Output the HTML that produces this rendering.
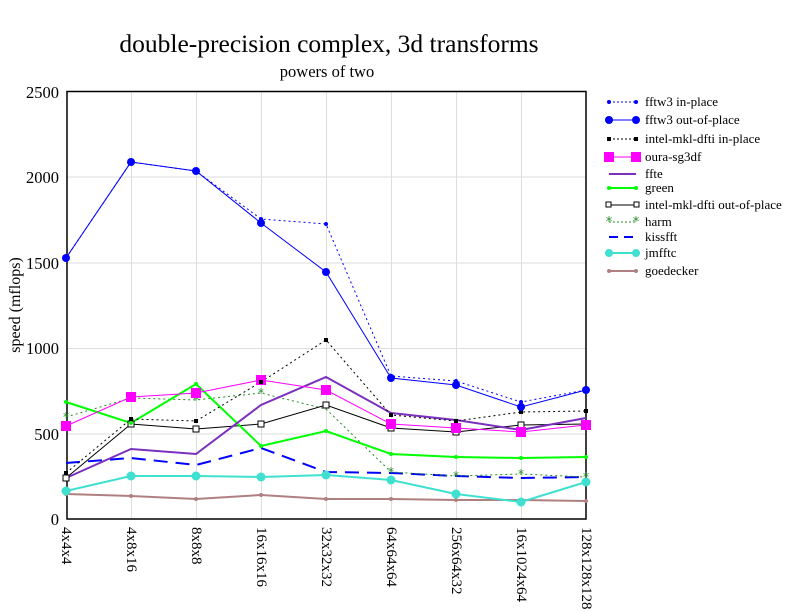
<!DOCTYPE html>
<html><head><meta charset="utf-8"><style>body{margin:0;background:#fff}svg{display:block}</style></head><body>
<svg width="792" height="612" xmlns="http://www.w3.org/2000/svg" font-family="Liberation Serif, serif">
<rect width="792" height="612" fill="#fff"/>
<g stroke="#ddd" stroke-width="1">
<line x1="131.5" y1="91" x2="131.5" y2="519"/><line x1="196.5" y1="91" x2="196.5" y2="519"/><line x1="261.5" y1="91" x2="261.5" y2="519"/><line x1="326.5" y1="91" x2="326.5" y2="519"/><line x1="391.5" y1="91" x2="391.5" y2="519"/><line x1="456.5" y1="91" x2="456.5" y2="519"/><line x1="521.5" y1="91" x2="521.5" y2="519"/>
<line x1="67" y1="434" x2="586" y2="434"/><line x1="67" y1="348.5" x2="586" y2="348.5"/><line x1="67" y1="263" x2="586" y2="263"/><line x1="67" y1="177" x2="586" y2="177"/>
</g>
<rect x="67" y="91.5" width="519" height="427.5" fill="none" stroke="#000" stroke-width="1.5"/>
<text x="329" y="52" font-size="25.5" text-anchor="middle">double-precision complex, 3d transforms</text>
<text x="327" y="77" font-size="16.5" text-anchor="middle">powers of two</text>
<g font-size="16.5" text-anchor="end">
<text x="59" y="525">0</text><text x="59" y="440">500</text><text x="59" y="354">1000</text><text x="59" y="269">1500</text><text x="59" y="183">2000</text><text x="59" y="98">2500</text>
</g>
<text transform="translate(20,305) rotate(-90)" font-size="16" text-anchor="middle">speed (mflops)</text>
<g font-size="15">
<text transform="translate(62,527) rotate(90)">4x4x4</text>
<text transform="translate(127,527) rotate(90)">4x8x16</text>
<text transform="translate(192,527) rotate(90)">8x8x8</text>
<text transform="translate(257,527) rotate(90)">16x16x16</text>
<text transform="translate(322,527) rotate(90)">32x32x32</text>
<text transform="translate(387,527) rotate(90)">64x64x64</text>
<text transform="translate(452,527) rotate(90)">256x64x32</text>
<text transform="translate(517,527) rotate(90)">16x1024x64</text>
<text transform="translate(582,527) rotate(90)">128x128x128</text>
</g>
<g fill="none">
<polyline stroke="#b08080" stroke-width="2" points="66,494 131,496 196,499 261,495 326,499 391,499 456,500 521,500 586,501"/>
<polyline stroke="#40e0d0" stroke-width="2" points="66,491 131,476 196,476 261,477 326,475 391,480 456,494 521,502 586,482"/>
<polyline stroke="#0000ff" stroke-width="2" stroke-dasharray="14,8" points="66,463 131,458 196,465 261,448 326,472 391,473 456,476 521,478 586,477"/>
<polyline stroke="#228b22" stroke-width="1" stroke-dasharray="2,3" points="66,417 131,398 196,400 261,393 326,409 391,472 456,476 521,474 586,477"/>
<polyline stroke="#000" stroke-width="1" points="66,478 131,424 196,429 261,424 326,405 391,428 456,432 521,425 586,424"/>
<polyline stroke="#00ff00" stroke-width="2" points="66,402 131,423 196,384 261,446 326,431 391,454 456,457 521,458 586,457"/>
<polyline stroke="#7b2fbe" stroke-width="2" points="66,478 131,449 196,454 261,405 326,377 391,413 456,420 521,430 586,418"/>
<polyline stroke="#ff00ff" stroke-width="1" points="66,426 131,397 196,393 261,380 326,390 391,424 456,428 521,432 586,425"/>
<polyline stroke="#000" stroke-width="1" stroke-dasharray="2,3" points="66,473 131,419 196,421 261,382 326,340 391,415 456,421 521,412 586,411"/>
<polyline stroke="#0000ff" stroke-width="1" points="66,258 131,162 196,171 261,223 326,272 391,378 456,385 521,407 586,390"/>
<polyline stroke="#0000ff" stroke-width="1" stroke-dasharray="2,3" points="66,258 131,162 196,171 261,219 326,224 391,376 456,381 521,402 586,390"/>
</g>
<g fill="#b08080"><circle cx="66" cy="494" r="2"/><circle cx="131" cy="496" r="2"/><circle cx="196" cy="499" r="2"/><circle cx="261" cy="495" r="2"/><circle cx="326" cy="499" r="2"/><circle cx="391" cy="499" r="2"/><circle cx="456" cy="500" r="2"/><circle cx="521" cy="500" r="2"/><circle cx="586" cy="501" r="2"/></g>
<g fill="#40e0d0"><circle cx="66" cy="491" r="4.5"/><circle cx="131" cy="476" r="4.5"/><circle cx="196" cy="476" r="4.5"/><circle cx="261" cy="477" r="4.5"/><circle cx="326" cy="475" r="4.5"/><circle cx="391" cy="480" r="4.5"/><circle cx="456" cy="494" r="4.5"/><circle cx="521" cy="502" r="4.5"/><circle cx="586" cy="482" r="4.5"/></g>
<g fill="#228b22" font-size="12" text-anchor="middle" font-family="DejaVu Sans"><text x="66" y="421">*</text><text x="131" y="402">*</text><text x="196" y="404">*</text><text x="261" y="397">*</text><text x="326" y="413">*</text><text x="391" y="476">*</text><text x="456" y="480">*</text><text x="521" y="478">*</text><text x="586" y="481">*</text></g>
<g fill="#fff" stroke="#000"><rect x="63" y="475" width="6" height="6"/><rect x="128" y="421" width="6" height="6"/><rect x="193" y="426" width="6" height="6"/><rect x="258" y="421" width="6" height="6"/><rect x="323" y="402" width="6" height="6"/><rect x="388" y="425" width="6" height="6"/><rect x="453" y="429" width="6" height="6"/><rect x="518" y="422" width="6" height="6"/><rect x="583" y="421" width="6" height="6"/></g>
<g fill="#00ff00"><circle cx="66" cy="402" r="2"/><circle cx="131" cy="423" r="2"/><circle cx="196" cy="384" r="2"/><circle cx="261" cy="446" r="2"/><circle cx="326" cy="431" r="2"/><circle cx="391" cy="454" r="2"/><circle cx="456" cy="457" r="2"/><circle cx="521" cy="458" r="2"/><circle cx="586" cy="457" r="2"/></g>
<g fill="#ff00ff"><rect x="61" y="421" width="10" height="10"/><rect x="126" y="392" width="10" height="10"/><rect x="191" y="388" width="10" height="10"/><rect x="256" y="375" width="10" height="10"/><rect x="321" y="385" width="10" height="10"/><rect x="386" y="419" width="10" height="10"/><rect x="451" y="423" width="10" height="10"/><rect x="516" y="427" width="10" height="10"/><rect x="581" y="420" width="10" height="10"/></g>
<g fill="#000"><rect x="64" y="471" width="4" height="4"/><rect x="129" y="417" width="4" height="4"/><rect x="194" y="419" width="4" height="4"/><rect x="259" y="380" width="4" height="4"/><rect x="324" y="338" width="4" height="4"/><rect x="389" y="413" width="4" height="4"/><rect x="454" y="419" width="4" height="4"/><rect x="519" y="410" width="4" height="4"/><rect x="584" y="409" width="4" height="4"/></g>
<g fill="#0000ff"><circle cx="66" cy="258" r="4" /><circle cx="131" cy="162" r="4"/><circle cx="196" cy="171" r="4"/><circle cx="261" cy="223" r="4"/><circle cx="326" cy="272" r="4"/><circle cx="391" cy="378" r="4"/><circle cx="456" cy="385" r="4"/><circle cx="521" cy="407" r="4"/><circle cx="586" cy="390" r="4"/>
<circle cx="261" cy="219" r="2"/><circle cx="326" cy="224" r="2"/><circle cx="391" cy="376" r="2"/><circle cx="456" cy="381" r="2"/><circle cx="521" cy="402" r="2"/></g>
<g font-size="13">
<line x1="609" y1="102" x2="636" y2="102" stroke="#00f" stroke-dasharray="2,2"/><circle cx="609" cy="102" r="2" fill="#00f"/><circle cx="636" cy="102" r="2" fill="#00f"/><text x="645" y="106">fftw3 in-place</text>
<line x1="609" y1="120" x2="636" y2="120" stroke="#00f"/><circle cx="609" cy="120" r="4" fill="#00f"/><circle cx="636" cy="120" r="4" fill="#00f"/><text x="645" y="124">fftw3 out-of-place</text>
<line x1="609" y1="139" x2="636" y2="139" stroke="#000" stroke-dasharray="2,2"/><rect x="607" y="137" width="4" height="4"/><rect x="634" y="137" width="4" height="4"/><text x="645" y="143">intel-mkl-dfti in-place</text>
<line x1="609" y1="157" x2="636" y2="157" stroke="#f0f"/><rect x="604" y="152" width="10" height="10" fill="#f0f"/><rect x="631" y="152" width="10" height="10" fill="#f0f"/><text x="645" y="161">oura-sg3df</text>
<line x1="609" y1="174" x2="636" y2="174" stroke="#7b2fbe" stroke-width="2"/><text x="645" y="178">ffte</text>
<line x1="609" y1="188" x2="636" y2="188" stroke="#0f0" stroke-width="2"/><circle cx="609" cy="188" r="2" fill="#0f0"/><circle cx="636" cy="188" r="2" fill="#0f0"/><text x="645" y="192">green</text>
<line x1="609" y1="205" x2="636" y2="205" stroke="#000"/><rect x="606" y="202" width="5" height="5" fill="#fff" stroke="#000"/><rect x="634" y="202" width="5" height="5" fill="#fff" stroke="#000"/><text x="645" y="209">intel-mkl-dfti out-of-place</text>
<line x1="609" y1="222" x2="636" y2="222" stroke="#228b22" stroke-dasharray="2,2"/><text x="609" y="226" fill="#228b22" text-anchor="middle" font-family="DejaVu Sans">*</text><text x="636" y="226" fill="#228b22" text-anchor="middle" font-family="DejaVu Sans">*</text><text x="645" y="226">harm</text>
<line x1="609" y1="237" x2="636" y2="237" stroke="#00f" stroke-width="2" stroke-dasharray="9,6"/><text x="645" y="241">kissfft</text>
<line x1="609" y1="253" x2="636" y2="253" stroke="#40e0d0" stroke-width="2"/><circle cx="609" cy="253" r="4" fill="#40e0d0"/><circle cx="636" cy="253" r="4" fill="#40e0d0"/><text x="645" y="257">jmfftc</text>
<line x1="609" y1="271" x2="636" y2="271" stroke="#b08080" stroke-width="2"/><circle cx="609" cy="271" r="2" fill="#b08080"/><circle cx="636" cy="271" r="2" fill="#b08080"/><text x="645" y="275">goedecker</text>
</g>
</svg>
</body></html>
